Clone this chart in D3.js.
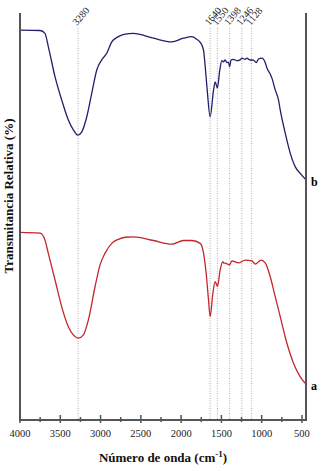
<!DOCTYPE html>
<html>
<head>
<meta charset="utf-8">
<script src="https://cdn.jsdelivr.net/npm/d3@7"></script>
<style>
  body { margin: 0; background: #fff; }
  text { font-family: "Liberation Serif", "DejaVu Serif", serif; }
</style>
</head>
<body>
<div id="chart"></div>
<script>
// Spectrum b (top, blue): wavenumber / relative transmittance
const waveB = [4000, 3750, 3690, 3648, 3565, 3482, 3400, 3338, 3283, 3233, 3171, 3109, 3047, 2985, 2923, 2861, 2779, 2695, 2592, 2344, 2115, 1971, 1867, 1804, 1763, 1722, 1701, 1673, 1640, 1598, 1577, 1550, 1520, 1494, 1474, 1453, 1432, 1412, 1398, 1380, 1350, 1308, 1267, 1246, 1205, 1184, 1150, 1101, 1067, 1040, 997, 956, 935, 894, 873, 832, 791, 770, 707, 645, 583, 521, 450];
const transB = [95.8, 95.7, 95.0, 91.7, 84.3, 78.6, 73.7, 71.3, 70.0, 70.8, 74.5, 80.3, 86.0, 88.5, 90.1, 92.9, 94.2, 94.8, 95.0, 93.8, 92.9, 93.8, 94.2, 93.5, 92.8, 90.9, 86.8, 80.3, 74.5, 81.0, 83.1, 81.6, 86.0, 88.3, 88.0, 88.5, 87.8, 87.9, 86.8, 88.5, 88.6, 88.3, 88.5, 88.9, 88.6, 88.9, 88.5, 88.4, 87.8, 88.7, 88.9, 87.8, 86.5, 85.0, 84.0, 81.1, 78.6, 76.2, 70.4, 65.5, 62.2, 60.6, 59.0];

// Spectrum a (bottom, red)
const waveA = [4000, 3750, 3690, 3648, 3565, 3482, 3400, 3338, 3276, 3213, 3151, 3068, 3006, 2944, 2861, 2779, 2695, 2592, 2344, 2115, 1971, 1867, 1763, 1722, 1689, 1660, 1640, 1606, 1577, 1549, 1515, 1482, 1474, 1441, 1424, 1399, 1370, 1288, 1205, 1121, 1080, 1009, 956, 894, 832, 770, 686, 604, 521, 450];
const transA = [46.1, 45.9, 44.2, 40.9, 34.4, 27.8, 22.9, 20.9, 20.1, 20.9, 24.6, 32.8, 38.1, 41.0, 43.4, 44.4, 44.9, 45.0, 44.1, 43.2, 44.1, 44.1, 43.4, 41.0, 36.0, 29.5, 25.4, 31.1, 34.0, 32.8, 36.9, 38.9, 38.6, 38.5, 38.3, 38.1, 39.1, 38.6, 39.3, 39.1, 38.3, 39.3, 38.6, 35.2, 30.3, 25.4, 18.8, 13.9, 10.6, 8.8];

// Marked bands
const peaks = [3280, 1640, 1550, 1398, 1246, 1128];

// Axis ticks
const majorTicks = [4000, 3500, 3000, 2500, 2000, 1500, 1000, 500];
const minorTicks = [3750, 3250, 2750, 2250, 1750, 1250, 750];

const width = 321, height = 471;
const margin = { top: 13, right: 15, bottom: 51, left: 20 };

const svg = d3.select("#chart")
  .append("svg")
  .attr("width", width)
  .attr("height", height);

const x = d3.scaleLinear()
  .domain([4000, 450])
  .range([margin.left, width - margin.right]);

const y = d3.scaleLinear()
  .domain([0, 100])
  .range([height - margin.bottom, margin.top]);

const y0 = height - margin.bottom;

// dotted peak lines
svg.selectAll(".peak")
  .data(peaks)
  .enter()
  .append("line")
  .attr("x1", d => x(d))
  .attr("x2", d => x(d))
  .attr("y1", 28)
  .attr("y2", y0)
  .attr("stroke", "#999")
  .attr("stroke-width", 0.8)
  .attr("stroke-dasharray", "1,1.5");

svg.selectAll(".peakLabel")
  .data(peaks)
  .enter()
  .append("text")
  .attr("transform", d => `translate(${x(d) - 1},26) rotate(-50)`)
  .attr("font-size", 10)
  .attr("fill", "#222")
  .text(d => d);

// spectra
const line = d3.line()
  .x(d => x(d[0]))
  .y(d => y(d[1]))
  .curve(d3.curveMonotoneX);

const seriesB = d3.zip(waveB, transB);
const seriesA = d3.zip(waveA, transA);

svg.append("path")
  .datum(seriesB)
  .attr("d", line)
  .attr("fill", "none")
  .attr("stroke", "#1f1f6b")
  .attr("stroke-width", 1.3);

svg.append("path")
  .datum(seriesA)
  .attr("d", line)
  .attr("fill", "none")
  .attr("stroke", "#c4262b")
  .attr("stroke-width", 1.3);

// axes frame (left, right, bottom)
const axisColor = "#555";
svg.append("line")
  .attr("x1", x(4000)).attr("x2", x(4000))
  .attr("y1", margin.top).attr("y2", y0 + 1)
  .attr("stroke", axisColor).attr("stroke-width", 2);
svg.append("line")
  .attr("x1", x(450)).attr("x2", x(450))
  .attr("y1", margin.top).attr("y2", y0 + 1)
  .attr("stroke", axisColor).attr("stroke-width", 2);
svg.append("line")
  .attr("x1", x(4000)).attr("x2", x(450))
  .attr("y1", y0).attr("y2", y0)
  .attr("stroke", axisColor).attr("stroke-width", 2);

svg.selectAll(".major")
  .data(majorTicks)
  .enter()
  .append("line")
  .attr("x1", d => x(d)).attr("x2", d => x(d))
  .attr("y1", y0 - 5).attr("y2", y0 + 3)
  .attr("stroke", axisColor).attr("stroke-width", 1.5);

svg.selectAll(".minor")
  .data(minorTicks)
  .enter()
  .append("line")
  .attr("x1", d => x(d)).attr("x2", d => x(d))
  .attr("y1", y0 - 3).attr("y2", y0 + 2)
  .attr("stroke", axisColor).attr("stroke-width", 1.5);

svg.selectAll(".tickLabel")
  .data(majorTicks)
  .enter()
  .append("text")
  .attr("x", d => x(d))
  .attr("y", y0 + 17)
  .attr("text-anchor", "middle")
  .attr("font-size", 10.5)
  .attr("fill", "#222")
  .text(d => d);

// axis titles
const xTitle = svg.append("text")
  .attr("x", 163)
  .attr("y", 462)
  .attr("text-anchor", "middle")
  .attr("font-size", 13)
  .attr("font-weight", "bold")
  .attr("fill", "#111");
xTitle.append("tspan").text("Número de onda (cm");
xTitle.append("tspan").attr("dy", -5).attr("font-size", 9).text("-1");
xTitle.append("tspan").attr("dy", 5).text(")");

svg.append("text")
  .attr("transform", "translate(13,196) rotate(-90)")
  .attr("text-anchor", "middle")
  .attr("font-size", 13)
  .attr("font-weight", "bold")
  .attr("fill", "#111")
  .text("Transmitancia Relativa (%)");

// series labels
svg.append("text")
  .attr("x", x(450) + 5)
  .attr("y", y(transB[transB.length - 1]) + 6)
  .attr("font-size", 12)
  .attr("font-weight", "bold")
  .text("b");

svg.append("text")
  .attr("x", x(450) + 5)
  .attr("y", y(transA[transA.length - 1]) + 6)
  .attr("font-size", 12)
  .attr("font-weight", "bold")
  .text("a");
</script>
</body>
</html>
